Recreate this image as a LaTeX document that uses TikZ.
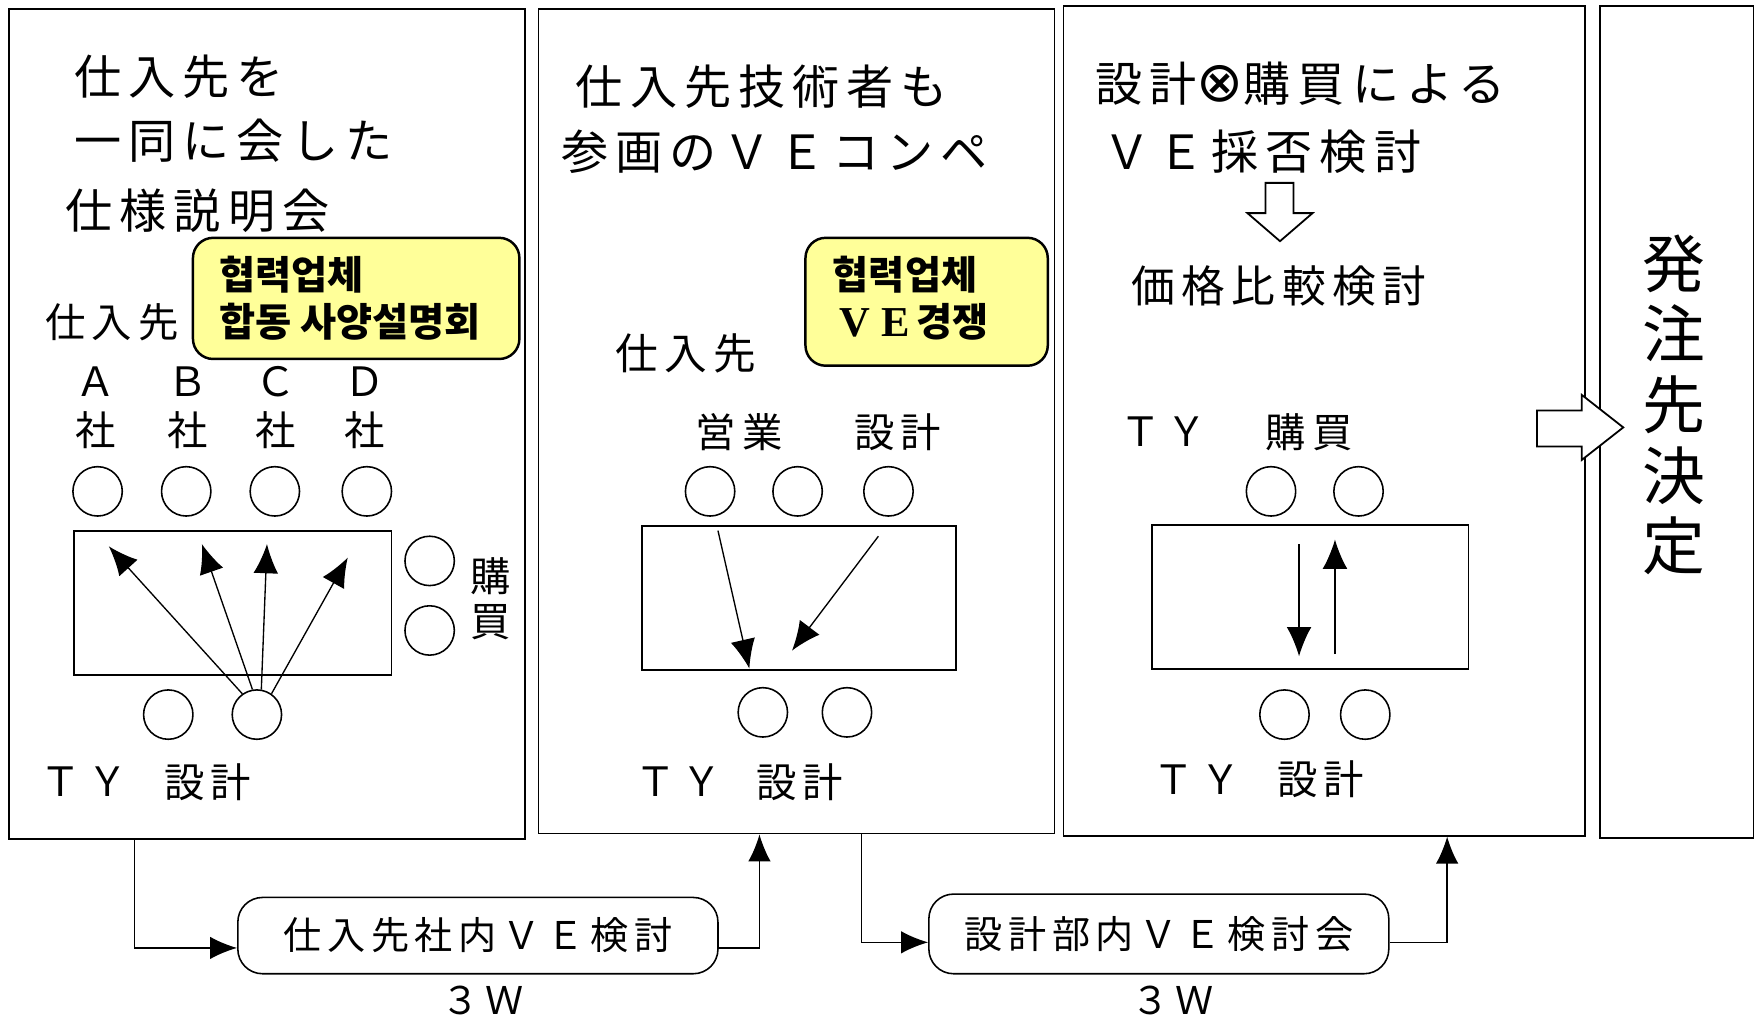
\documentclass[tikz,border=0pt]{standalone}
\usepackage{fontspec}
\usetikzlibrary{arrows.meta,fit,calc}
\newfontfamily\jpf[LetterSpace=15]{Noto Sans CJK JP}
\newfontfamily\jpn{Noto Sans CJK JP}
\newfontfamily\krf{Noto Sans CJK KR}
\newfontfamily\dvsf{DejaVu Sans}
\newfontfamily\lserf{Liberation Serif}
\definecolor{noteyellow}{RGB}{255,255,153}
\newcommand\ttlfont{\jpf\fontsize{21}{25}\selectfont}
\newcommand\midfont{\jpf\fontsize{19.5}{24}\selectfont}
\newcommand\lblfont{\jpf\fontsize{18}{22}\selectfont}
\newcommand\boxfont{\jpf\fontsize{17}{20}\selectfont}
\newcommand\krfont{\krf\bfseries\fontsize{17.5}{20}\selectfont}
\begin{document}
\begin{tikzpicture}[x=0.5pt,y=-0.5pt,
  panel/.style={draw, line width=0.8pt, inner sep=0pt},
  cell/.style={draw, line width=0.8pt, inner sep=0pt},
  ring/.style={draw, circle, minimum size=22pt, inner sep=0pt, line width=0.7pt},
  note/.style={draw, line width=1.1pt, fill=noteyellow, rounded corners=9pt, inner sep=0pt},
  pill/.style={draw, line width=0.7pt, rounded corners=11pt, inner sep=0pt},
  arr/.style={line width=0.6pt, -{Latex[length=13pt,width=11pt]}},
  flow/.style={line width=0.6pt, -{Latex[length=12pt,width=10pt]}},
  hollow/.style={draw, line width=0.8pt, fill=white},
  ttl/.style={anchor=west, inner sep=0pt, font=\ttlfont},
  mid/.style={anchor=west, inner sep=0pt, font=\midfont},
  lbl/.style={anchor=west, inner sep=0pt, font=\lblfont},
  clbl/.style={anchor=center, inner sep=0pt, font=\lblfont},
  kr/.style={anchor=west, inner sep=0pt, font=\krfont}]
\useasboundingbox (0,0) rectangle (1568,909);
\fill[white] (0,0) rectangle (1568,909);

% panels
\node[panel, fit={(8,8) (468,748)}] (p1) {};
\node[panel, fit={(480,8) (940,743)}] (p2) {};
\node[panel, fit={(948,5) (1413,745)}] (p3) {};
\node[panel, fit={(1426,5) (1563,747)}] (p4) {};

% ---------- panel 1 ----------
\node[ttl] (t1a) at (66,68) {仕入先を};
\node[ttl] (t1b) at (66,125) {一同に会した};
\node[ttl] (t1c) at (58,188) {仕様説明会};
\node[lbl] (sup1) at (40,287) {仕入先};
\node[clbl] (la) at (85,340) {Ａ};
\node[clbl] (lb) at (167,340) {Ｂ};
\node[clbl] (lc) at (246,340) {Ｃ};
\node[clbl] (ld) at (325,340) {Ｄ};
\node[clbl] (sa) at (85,383) {社};
\node[clbl] (sb) at (167,383) {社};
\node[clbl] (sc) at (246,383) {社};
\node[clbl] (sd) at (325,383) {社};
\node[ring] (a1) at (87,438) {};
\node[ring] (a2) at (166,438) {};
\node[ring] (a3) at (245,438) {};
\node[ring] (a4) at (327,438) {};
\node[cell, fit={(66,473) (349,602)}] (c1) {};
\node[ring] (k1) at (383,500) {};
\node[ring] (k2) at (383,562) {};
\node[inner sep=0pt, align=center, font=\jpn\fontsize{18}{20}\selectfont] (kb) at (437,534) {購\\買};
\node[ring] (t1) at (150,637) {};
\node[ring] (t2) at (229,637) {};
\node[lbl] (ty1) at (36,697) {ＴＹ};
\node[lbl] (ds1) at (146,697) {設計};
\coordinate (h1) at (97,487);
\coordinate (h2) at (180,485);
\coordinate (h3) at (238,485);
\coordinate (h4) at (310,497);
\draw[arr] (t2.125) -- (h1);
\draw[arr] (t2.100) -- (h2);
\draw[arr] (t2.80) -- (h3);
\draw[arr] (t2.55) -- (h4);
\node[note, fit={(172,212) (463,320)}] (n1) {};
\node[kr] (k1a) at (195,245) {협력업체};
\node[kr] (k1b) at (195,287) {합동 사양설명회};

% ---------- panel 2 ----------
\node[ttl] (t2a) at (513,77) {仕入先技術者も};
\node[ttl] (t2b) at (500,135) {参画のＶＥコンペ};
\node[lbl, font=\jpf\fontsize{19}{22}\selectfont] (sup2) at (548,315) {仕入先};
\node[clbl] (eg) at (659,385) {営業};
\node[clbl] (sk) at (800,385) {設計};
\node[ring] (s1) at (633,438) {};
\node[ring] (s2) at (711,438) {};
\node[ring] (s3) at (792,438) {};
\node[cell, fit={(572,469) (852,597)}] (c2) {};
\coordinate (g1) at (640,473);
\coordinate (g1e) at (668,596);
\coordinate (g2) at (783,478);
\coordinate (g2e) at (706,580);
\draw[arr] (g1) -- (g1e);
\draw[arr] (g2) -- (g2e);
\node[ring] (u1) at (680,635) {};
\node[ring] (u2) at (755,635) {};
\node[lbl] (ty2) at (566,697) {ＴＹ};
\node[lbl] (ds2) at (674,697) {設計};
\node[note, fit={(718,212) (934,326)}] (n2) {};
\node[kr] (k2a) at (742,245) {협력업체};
\node[kr] (k2b) at (748,287) {{\lserf\bfseries\fontsize{19}{20}\selectfont V E\,}경쟁};

% ---------- panel 3 ----------
\node[ttl] (t3a) at (976,75) {設計{\dvsf\fontsize{25}{25}\selectfont ⊗}購買による};
\node[ttl] (t3b) at (983,135) {ＶＥ採否検討};
\draw[hollow] (1128,163) -- (1153,163) -- (1153,190) -- (1170,190) -- (1141,215) -- (1112,190) -- (1128,190) -- cycle;
\node[mid] (t3c) at (1008,255) {価格比較検討};
\node[lbl] (ty3a) at (998,385) {ＴＹ};
\node[lbl] (kb3) at (1128,385) {購買};
\node[ring] (v1) at (1133,438) {};
\node[ring] (v2) at (1211,438) {};
\node[cell, fit={(1027,468) (1309,596)}] (c3) {};
\coordinate (m1) at (1158,485);
\coordinate (m1e) at (1158,585);
\coordinate (m2) at (1190,583);
\coordinate (m2e) at (1190,481);
\draw[arr] (m1) -- (m1e);
\draw[arr] (m2) -- (m2e);
\node[ring] (w1) at (1145,637) {};
\node[ring] (w2) at (1217,637) {};
\node[lbl] (ty3) at (1028,695) {ＴＹ};
\node[lbl] (ds3) at (1138,695) {設計};

% hollow arrow to panel 4
\draw[hollow] (1370,366) -- (1410,366) -- (1410,352) -- (1447,381) -- (1410,410) -- (1410,398) -- (1370,398) -- cycle;

% ---------- panel 4 ----------
\node[inner sep=0pt, align=center, font=\jpn\fontsize{28}{31.5}\selectfont] (dec) at (1492,361) {発\\注\\先\\決\\定};

% ---------- bottom flow ----------
\node[pill, fit={(212,800) (640,868)}] (b1) {};
\node[inner sep=0pt, font=\boxfont] (b1t) at (b1.center) {仕入先社内ＶＥ検討};
\node[pill, fit={(828,797) (1238,868)}] (b2) {};
\node[inner sep=0pt, font=\boxfont] (b2t) at (b2.center) {設計部内ＶＥ検討会};
\node[inner sep=0pt, font=\boxfont] (w3a) at (430,892) {３Ｗ};
\node[inner sep=0pt, font=\boxfont] (w3b) at (1045,892) {３Ｗ};
\coordinate (j1) at (120,845);
\coordinate (j2) at (677,845);
\coordinate (j3) at (768,840);
\coordinate (j4) at (1290,840);
\draw[flow] (p1.south -| j1) |- (b1.west |- j1);
\draw[flow] (b1.east |- j2) -| (p2.south -| j2);
\draw[flow] (p2.south -| j3) |- (b2.west |- j3);
\draw[flow] (b2.east |- j4) -| (p3.south -| j4);
\end{tikzpicture}
\end{document}
